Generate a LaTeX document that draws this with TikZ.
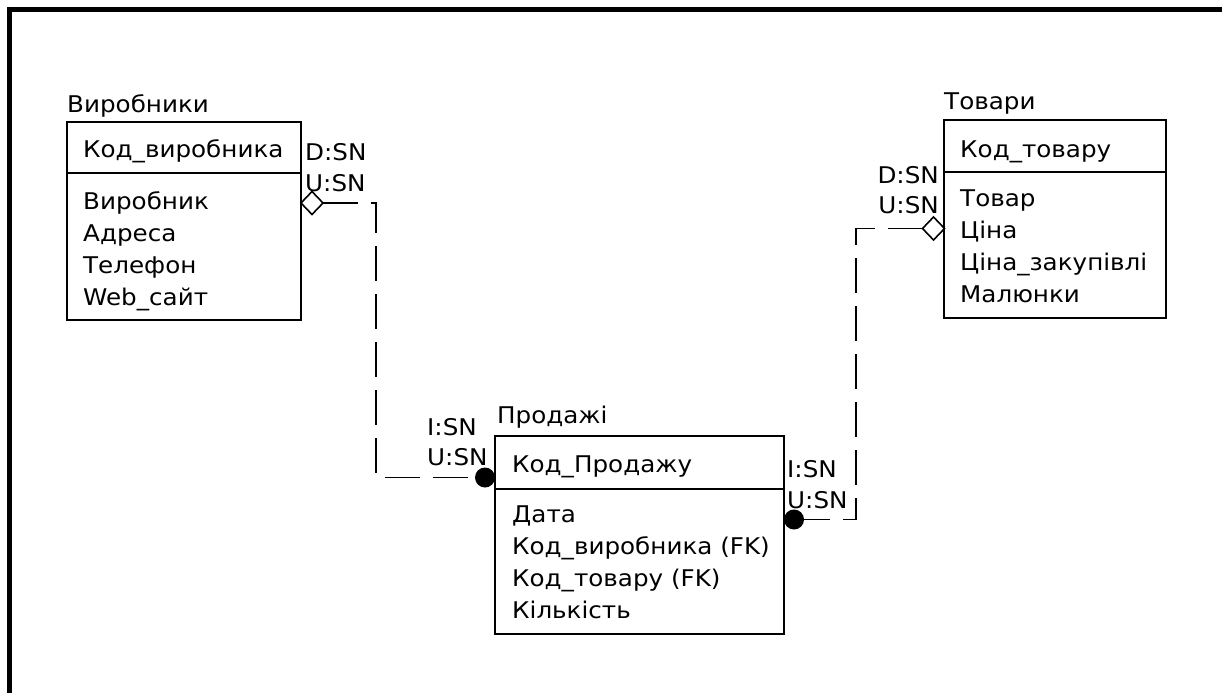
\documentclass[tikz,border=0pt]{standalone}
\usepackage{fontspec}
\usetikzlibrary{shapes.geometric}
\newfontfamily\erfont[FakeStretch=1.07]{DejaVu Sans}
\begin{document}
\begin{tikzpicture}[x=1pt,y=-1pt,
  ent/.style={draw, line width=1.8pt, rectangle, anchor=north west, inner sep=0pt, outer sep=0pt},
  txt/.style={anchor=base west, inner sep=0pt, font=\erfont\fontsize{23}{27}\selectfont},
  txtr/.style={txt, anchor=base east},
  rel/.style={draw, line width=1.8pt, dash pattern=on 35pt off 13pt},
  pdiam/.style={draw, diamond, fill=white, line width=1.6pt, minimum width=22pt, minimum height=23pt, inner sep=0pt, outer sep=0pt},
  cdot/.style={circle, fill=black, minimum size=20pt, inner sep=0pt, outer sep=0pt}
]
\useasboundingbox (0,0) rectangle (1222,693);
\fill[white] (0,0) rectangle (1222,693);
\draw[line width=4.5pt] (9.5,693) -- (9.5,9.5) -- (1222,9.5);

% Виробники
\node[txt] (vtitle) at (67,112) {Виробники};
\node[ent, minimum width=234pt, minimum height=51pt] (vkey) at (67,122) {};
\node[ent, minimum width=234pt, minimum height=147pt] (vatt) at (67,173) {};
\node[txt] (vk1) at (83,157) {Код\_виробника};
\node[txt] (va1) at (83,209) {Виробник};
\node[txt] (va2) at (83,241) {Адреса};
\node[txt] (va3) at (83,273) {Телефон};
\node[txt] (va4) at (83,305) {Web\_сайт};

% Товари
\node[txt] (ttitle) at (944,109) {Товари};
\node[ent, minimum width=222pt, minimum height=52pt] (tkey) at (944,120) {};
\node[ent, minimum width=222pt, minimum height=146pt] (tatt) at (944,172) {};
\node[txt] (tk1) at (960,157) {Код\_товару};
\node[txt] (ta1) at (960,206) {Товар};
\node[txt] (ta2) at (960,238) {Ціна};
\node[txt] (ta3) at (960,270) {Ціна\_закупівлі};
\node[txt] (ta4) at (960,302) {Малюнки};

% Продажі
\node[txt] (ptitle) at (497,423) {Продажі};
\node[ent, minimum width=289pt, minimum height=53pt] (pkey) at (495,436) {};
\node[ent, minimum width=289pt, minimum height=145pt] (patt) at (495,489) {};
\node[txt] (pk1) at (512,472) {Код\_Продажу};
\node[txt] (pa1) at (512,522) {Дата};
\node[txt] (pa2) at (512,554) {Код\_виробника (FK)};
\node[txt] (pa3) at (512,586) {Код\_товару (FK)};
\node[txt] (pa4) at (512,618) {Кількість};

% relationship labels
\node[txt] (l1) at (305,160) {D:SN};
\node[txt] (l2) at (305,191) {U:SN};
\node[txtr] (l3) at (939,183) {D:SN};
\node[txtr] (l4) at (939,213) {U:SN};
\node[txt] (l5) at (427,435) {I:SN};
\node[txt] (l6) at (427,465) {U:SN};
\node[txt] (l7) at (787,477) {I:SN};
\node[txt] (l8) at (787,508) {U:SN};

% markers
\node[pdiam] (vd) at (312,203) {};
\node[pdiam] (td) at (933.5,228.5) {};
\node[cdot] (lc) at (485,477.5) {};
\node[cdot] (rc) at (794,519.5) {};

% connectors
\draw[rel] (vd.east) -- (376,203) |- (lc.west);
\draw[rel] (td.west) -- (856,228.5) |- (rc.east);
\end{tikzpicture}
\end{document}
